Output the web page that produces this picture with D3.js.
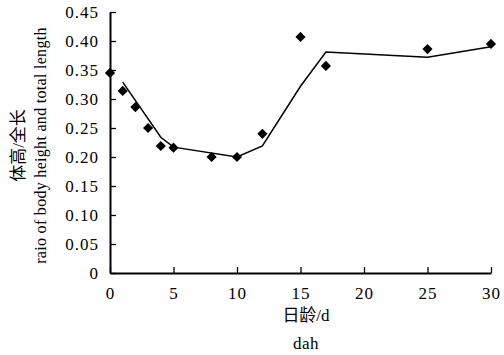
<!DOCTYPE html>
<html><head><meta charset="utf-8">
<script src="https://cdn.jsdelivr.net/npm/d3@7"></script>
<style>body{margin:0;background:#fff;}</style></head>
<body>
<svg id="chart" width="504" height="355"></svg>
<script>
const pointDays = [0, 1, 2, 3, 4, 5, 8, 10, 12, 15, 17, 25, 30];
const pointRatios = [0.345, 0.314, 0.286, 0.250, 0.219, 0.216, 0.200, 0.200, 0.240, 0.407, 0.357, 0.386, 0.395];
const lineDays = [1, 4, 5, 10, 12, 15, 17, 25, 30];
const lineRatios = [0.329, 0.234, 0.217, 0.200, 0.219, 0.322, 0.381, 0.372, 0.390];
const xTicks = [0, 5, 10, 15, 20, 25, 30];
const yTicks = [0, 0.05, 0.10, 0.15, 0.20, 0.25, 0.30, 0.35, 0.40, 0.45];

const SERIF = "Liberation Serif";
const CJK = "Liberation Serif, Noto Sans CJK SC";
const svg = d3.select("#chart");
const L = 110, R = 491, T = 12, B = 273;
const x = d3.scaleLinear().domain([0, 30]).range([L, R]);
const y = d3.scaleLinear().domain([0, 0.45]).range([B, T]);

const xAxis = d3.axisBottom(x).tickValues(xTicks).tickSizeInner(-6).tickSizeOuter(0)
  .tickPadding(14).tickFormat(d => d);
const gx = svg.append("g").attr("transform", `translate(0,${B})`).call(xAxis);
const yAxis = d3.axisLeft(y).tickValues(yTicks).tickSizeInner(-6).tickSizeOuter(0)
  .tickPadding(11).tickFormat(d => d === 0 ? "0" : d3.format(".2f")(d));
const gy = svg.append("g").attr("transform", `translate(${L},0)`).call(yAxis);
[gx, gy].forEach(g => {
  g.attr("font-family", SERIF).attr("font-size", 17);
  g.select(".domain").attr("stroke", "#000").attr("stroke-width", 2);
  g.selectAll(".tick line").attr("stroke", "#000").attr("stroke-width", 1.3);
  g.selectAll(".tick text").attr("font-family", SERIF).attr("font-size", 17)
    .attr("letter-spacing", "1px").attr("fill", "#000");
});
gx.selectAll(".tick text").attr("dy", "0.71em");
gy.selectAll(".tick text").attr("dy", "0.35em");

const line = d3.line().x((d, i) => x(lineDays[i])).y((d, i) => y(lineRatios[i]));
svg.append("path").datum(lineRatios).attr("d", line)
  .attr("fill", "none").attr("stroke", "#000").attr("stroke-width", 1.5);

const diamond = d3.symbol().type(d3.symbolSquare).size(52);
svg.selectAll(".pt").data(pointRatios).enter().append("path")
  .attr("d", diamond)
  .attr("transform", (d, i) => `translate(${x(pointDays[i])},${y(d)}) rotate(45)`)
  .attr("fill", "#000");

const cy = (T + B) / 2 + 3;
svg.append("text").attr("font-family", CJK).attr("font-size", 17)
  .attr("text-anchor", "middle")
  .attr("transform", `translate(24,${cy}) rotate(-90)`).text("体高/全长");
svg.append("text").attr("font-family", SERIF).attr("font-size", 16).attr("text-anchor", "middle")
  .attr("letter-spacing", "0.3px")
  .attr("transform", `translate(46,${cy}) rotate(-90)`).text("raio of body height and total length");

svg.append("text").attr("font-family", CJK).attr("font-size", 17).attr("text-anchor", "middle")
  .attr("x", 306).attr("y", 321).text("日龄/d");
svg.append("text").attr("font-family", SERIF).attr("font-size", 17).attr("text-anchor", "middle")
  .attr("letter-spacing", "0.5px")
  .attr("x", 306).attr("y", 349).text("dah");
</script>
</body></html>
